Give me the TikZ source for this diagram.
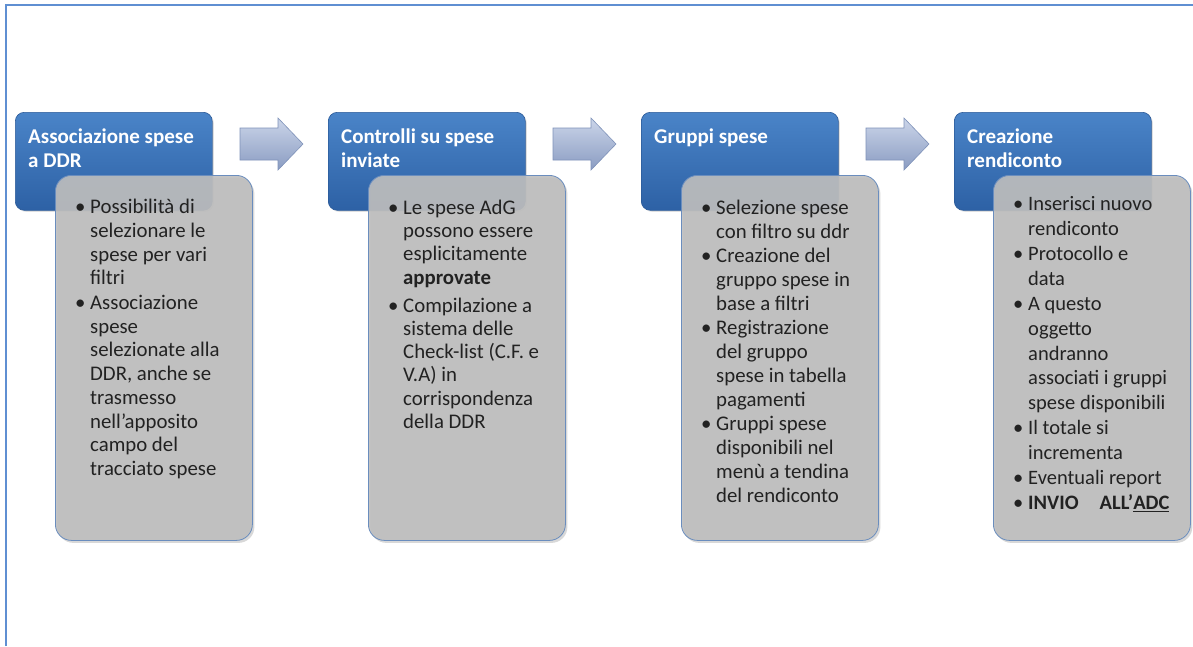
\documentclass[tikz,border=0pt]{standalone}
\usepackage{fontspec}
\setmainfont{Carlito}
\usetikzlibrary{shadows}
\definecolor{frameblue}{HTML}{5F8FD2}
\definecolor{hdtop}{HTML}{4A84C8}
\definecolor{hdbot}{HTML}{2D61A5}
\definecolor{hdedge}{HTML}{2B5A98}
\definecolor{graybox}{HTML}{BEBEBE}
\definecolor{grayedge}{HTML}{6A8DBE}
\definecolor{arrtop}{HTML}{CBD5E9}
\definecolor{arrbot}{HTML}{8A9CC2}
\definecolor{arredge}{HTML}{7F92B9}
\definecolor{bodytext}{HTML}{222222}
\newcommand{\bitem}{\makebox[15pt][l]{\textbullet}}
\tikzset{
  hdbox/.style={draw=hdedge, line width=0.6pt, top color=hdtop, bottom color=hdbot,
    rounded corners=9pt, minimum width=197pt, minimum height=98pt, anchor=north west,
    inner sep=0pt, drop shadow={shadow xshift=1.5pt, shadow yshift=-1.5pt, opacity=0.25}},
  hdtext/.style={anchor=north west, inner sep=0pt, align=left, text=white,
    font=\fontsize{21}{24}\selectfont\bfseries},
  bodybox/.style={draw=grayedge, line width=0.8pt, fill=graybox, fill opacity=0.9,
    rounded corners=16pt, minimum width=197pt, minimum height=365pt, anchor=north west,
    inner sep=0pt, drop shadow={shadow xshift=2pt, shadow yshift=-2.5pt, opacity=0.3}},
  bodytxt/.style={anchor=north west, inner sep=0pt, align=left, text=bodytext},
  blockarrow/.style={draw=arredge, line width=0.6pt, top color=arrtop, bottom color=arrbot}
}
\begin{document}
\begin{tikzpicture}[x=1pt,y=-1pt]
\useasboundingbox (0,0) rectangle (1193,646);
\fill[white] (0,0) rectangle (1193,646);
% frame
\coordinate (fbl) at (6,646);
\coordinate (ftl) at (6,5);
\coordinate (ftr) at (1193,5);
\draw[frameblue, line width=2pt] (fbl) -- (ftl) -- (ftr);

% header boxes
\node[hdbox] (h1) at (15,112) {};
\node[hdbox] (h2) at (328,112) {};
\node[hdbox] (h3) at (641,112) {};
\node[hdbox] (h4) at (954,112) {};

\node[hdtext] (ht1) at (28,129) {Associazione spese\\a DDR};
\node[hdtext] (ht2) at (341,129) {Controlli su spese\\inviate};
\node[hdtext] (ht3) at (654,129) {Gruppi spese};
\node[hdtext] (ht4) at (967,129) {Creazione\\rendiconto};

% block arrows
\foreach \dx/\nm in {0/a1,313/a2,626/a3}{
  \begin{scope}[xshift=\dx pt]
    \path[blockarrow] (240,128) -- (278,128) -- (278,118) -- (303,144) -- (278,170)
      -- (278,160) -- (240,160) -- cycle;
    \coordinate (\nm) at (271,144);
  \end{scope}
}

% body boxes
\node[bodybox] (b1) at (55,175) {};
\node[bodybox] (b2) at (368,175) {};
\node[bodybox] (b3) at (681,175) {};
\node[bodybox] (b4) at (993,175) {};

\node[bodytxt, font=\fontsize{20.8}{23.7}\selectfont] (t1) at (75,197) {%
\begin{tabular}{@{}l@{}l@{}}
\bitem & Possibilità di\\
 & selezionare le\\
 & spese per vari\\
 & filtri\\[1pt]
\bitem & Associazione\\
 & spese\\
 & selezionate alla\\
 & DDR, anche se\\
 & trasmesso\\
 & nell’apposito\\
 & campo del\\
 & tracciato spese
\end{tabular}};

\node[bodytxt, font=\fontsize{20.8}{23.2}\selectfont] (t2) at (388,198) {%
\begin{tabular}{@{}l@{}l@{}}
\bitem & Le spese AdG\\
 & possono essere\\
 & esplicitamente\\
 & \textbf{approvate}\\[5pt]
\bitem & Compilazione a\\
 & sistema delle\\
 & Check-list (C.F. e\\
 & V.A) in\\
 & corrispondenza\\
 & della DDR
\end{tabular}};

\node[bodytxt, font=\fontsize{20.8}{24}\selectfont] (t3) at (701,197) {%
\begin{tabular}{@{}l@{}l@{}}
\bitem & Selezione spese\\
 & con filtro su ddr\\
\bitem & Creazione del\\
 & gruppo spese in\\
 & base a filtri\\
\bitem & Registrazione\\
 & del gruppo\\
 & spese in tabella\\
 & pagamenti\\
\bitem & Gruppi spese\\
 & disponibili nel\\
 & menù a tendina\\
 & del rendiconto
\end{tabular}};

\node[bodytxt, font=\fontsize{20.5}{24.9}\selectfont] (t4) at (1013,193) {%
\begin{tabular}{@{}l@{}l@{}}
\bitem & Inserisci nuovo\\
 & rendiconto\\
\bitem & Protocollo e\\
 & data\\
\bitem & A questo\\
 & oggetto\\
 & andranno\\
 & associati i gruppi\\
 & spese disponibili\\
\bitem & Il totale si\\
 & incrementa\\
\bitem & Eventuali report\\
\bitem & \textbf{INVIO\hspace{0.8em} ALL’\underline{ADC}}
\end{tabular}};
\end{tikzpicture}
\end{document}
